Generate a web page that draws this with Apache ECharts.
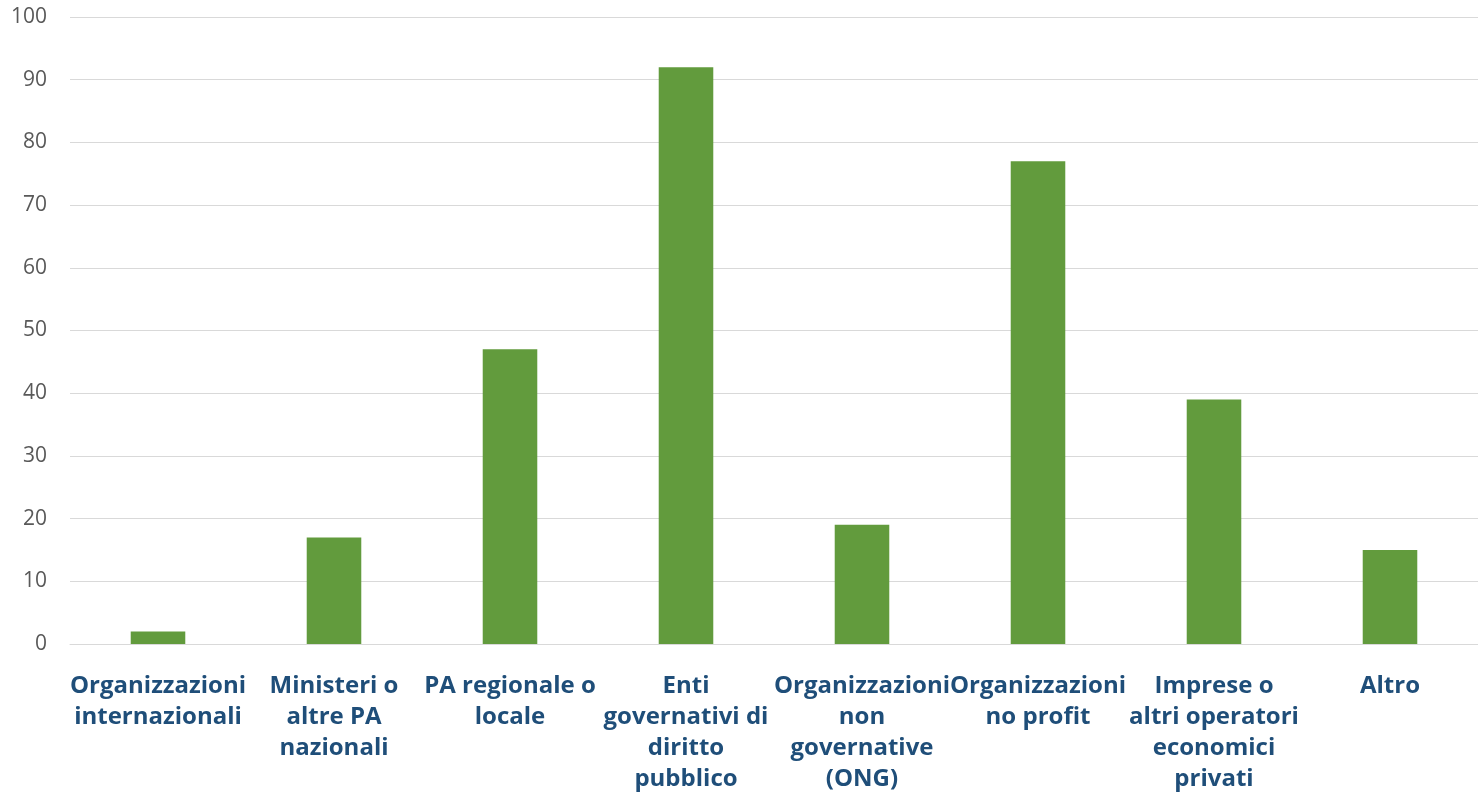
<!DOCTYPE html>
<html><head><meta charset="utf-8">
<script src="https://cdn.jsdelivr.net/npm/echarts@6/dist/echarts.min.js"></script>
<style>html,body{margin:0;padding:0;background:#fff}#c{width:1478px;height:803px}</style>
</head><body><div id="c"></div>
<script>
const categories = ["Organizzazioni\ninternazionali","Ministeri o\naltre PA\nnazionali","PA regionale o\nlocale","Enti\ngovernativi di\ndiritto\npubblico","Organizzazioni\nnon\ngovernative\n(ONG)","Organizzazioni\nno profit","Imprese o\naltri operatori\neconomici\nprivati","Altro"];
const values = [2, 17, 47, 92, 19, 77, 39, 15];
const chart = echarts.init(document.getElementById('c'));
chart.setOption({
  animation:false,
  grid:{left:70,width:1416,top:17,bottom:159,containLabel:false},
  xAxis:{type:'category',data:categories,
    axisLine:{lineStyle:{color:'#d9d9d9',width:1}},axisTick:{show:false},
    axisLabel:{interval:0,color:'#1F4E79',fontFamily:'Open Sans',fontWeight:'bold',fontSize:24,lineHeight:31,margin:27}},
  yAxis:{type:'value',min:0,max:100,interval:10,
    axisLine:{show:false},axisTick:{show:false},
    splitLine:{lineStyle:{color:'#d9d9d9',width:1}},
    axisLabel:{color:'#595959',fontFamily:'Open Sans',fontSize:21,margin:23}},
  series:[{type:'bar',data:values,barWidth:'31%',itemStyle:{color:'#629B3D'}}]
});
</script></body></html>
